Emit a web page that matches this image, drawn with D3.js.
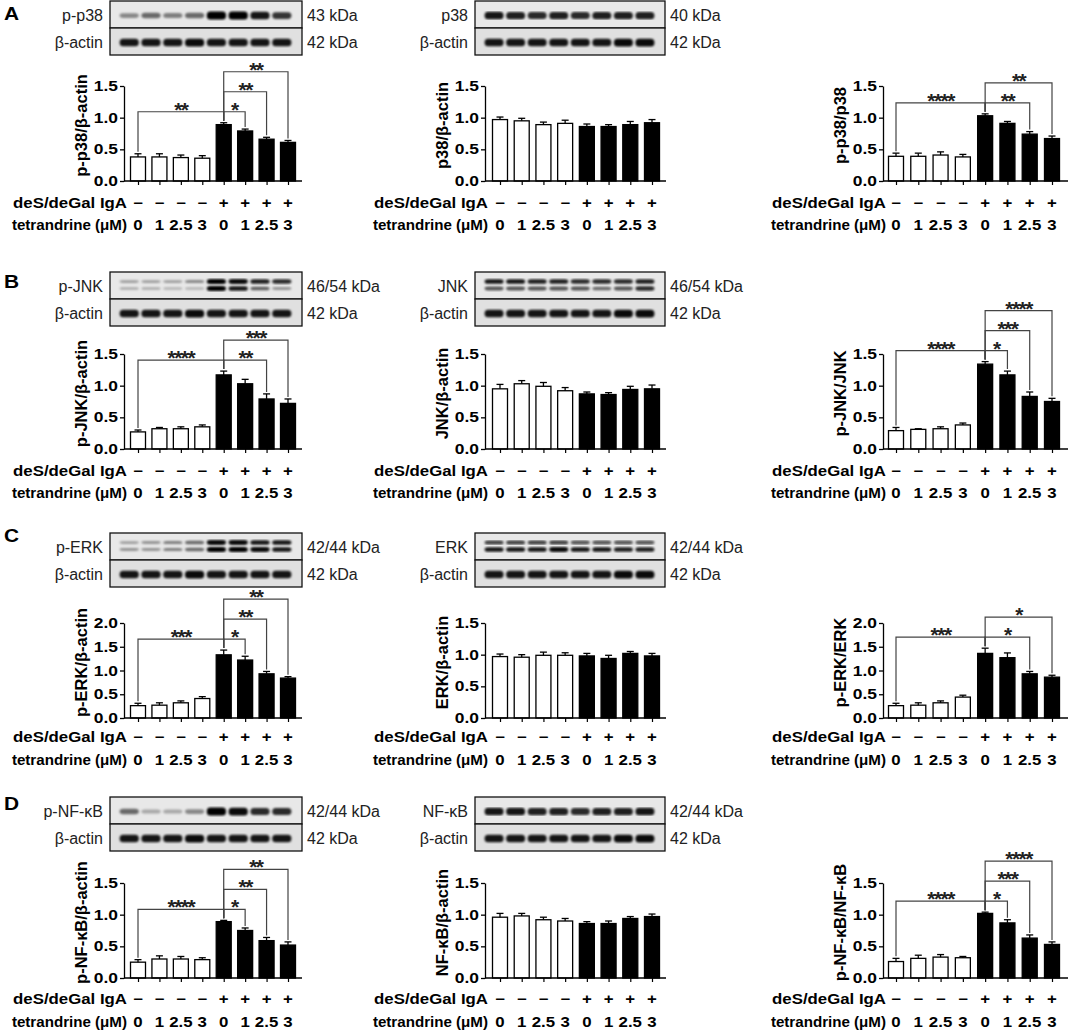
<!DOCTYPE html>
<html>
<head>
<meta charset="utf-8">
<script src="https://cdn.jsdelivr.net/npm/d3@7"></script>
<style>
  body { margin: 0; background: #fff; }
  svg { display: block; }
</style>
</head>
<body>
<div id="fig"></div>
<script>
// ---- x labels ----
const igaMarks = ["−", "−", "−", "−", "+", "+", "+", "+"];
const tetLabels = ["0", "1", "2.5", "3", "0", "1", "2.5", "3"];
const panelLetters = ["A", "B", "C", "D"];

// ---- bar values (mean) and error bars (SEM) ----
const pp38Actin    = [0.38, 0.38, 0.37, 0.36, 0.89, 0.79, 0.66, 0.61];
const pp38ActinErr = [0.05, 0.05, 0.04, 0.04, 0.03, 0.03, 0.03, 0.03];
const p38Actin     = [0.97, 0.95, 0.89, 0.91, 0.86, 0.86, 0.89, 0.92];
const p38ActinErr  = [0.04, 0.04, 0.04, 0.05, 0.04, 0.03, 0.05, 0.05];
const pp38P38      = [0.39, 0.39, 0.41, 0.38, 1.03, 0.91, 0.74, 0.67];
const pp38P38Err   = [0.05, 0.05, 0.05, 0.04, 0.03, 0.03, 0.04, 0.04];

const pJnkActin    = [0.27, 0.32, 0.32, 0.35, 1.17, 1.03, 0.79, 0.72];
const pJnkActinErr = [0.03, 0.02, 0.03, 0.03, 0.06, 0.07, 0.08, 0.07];
const jnkActin     = [0.95, 1.03, 0.99, 0.92, 0.87, 0.86, 0.94, 0.95];
const jnkActinErr  = [0.07, 0.05, 0.06, 0.05, 0.03, 0.03, 0.05, 0.06];
const pJnkJnk      = [0.29, 0.31, 0.32, 0.38, 1.34, 1.17, 0.83, 0.75];
const pJnkJnkErr   = [0.05, 0.01, 0.03, 0.03, 0.04, 0.06, 0.07, 0.05];

const pErkActin    = [0.26, 0.27, 0.32, 0.41, 1.33, 1.22, 0.93, 0.84];
const pErkActinErr = [0.05, 0.05, 0.04, 0.04, 0.10, 0.08, 0.05, 0.03];
const erkActin     = [0.97, 0.96, 0.99, 0.99, 0.98, 0.94, 1.02, 0.98];
const erkActinErr  = [0.04, 0.04, 0.05, 0.04, 0.04, 0.05, 0.03, 0.04];
const pErkErk      = [0.26, 0.27, 0.32, 0.44, 1.36, 1.27, 0.93, 0.86];
const pErkErkErr   = [0.05, 0.05, 0.04, 0.04, 0.11, 0.10, 0.05, 0.04];

const pNfkbActin    = [0.25, 0.30, 0.30, 0.29, 0.89, 0.75, 0.59, 0.52];
const pNfkbActinErr = [0.04, 0.05, 0.04, 0.03, 0.02, 0.04, 0.05, 0.05];
const nfkbActin     = [0.96, 0.98, 0.92, 0.90, 0.86, 0.86, 0.94, 0.97];
const nfkbActinErr  = [0.06, 0.04, 0.04, 0.04, 0.03, 0.04, 0.03, 0.04];
const pNfkbNfkb     = [0.26, 0.31, 0.33, 0.32, 1.02, 0.87, 0.63, 0.53];
const pNfkbNfkbErr  = [0.05, 0.05, 0.04, 0.02, 0.02, 0.05, 0.05, 0.04];

// ---- significance comparisons [from bar, to bar, stars] ----
const pp38ActinSig  = [[0, 4, "**"], [4, 5, "*"], [4, 6, "**"], [4, 7, "**"]];
const pp38P38Sig    = [[0, 4, "****"], [4, 6, "**"], [4, 7, "**"]];
const pJnkActinSig  = [[0, 4, "****"], [4, 6, "**"], [4, 7, "***"]];
const pJnkJnkSig    = [[0, 4, "****"], [4, 5, "*"], [4, 6, "***"], [4, 7, "****"]];
const pErkActinSig  = [[0, 4, "***"], [4, 5, "*"], [4, 6, "**"], [4, 7, "**"]];
const pErkErkSig    = [[0, 4, "***"], [4, 6, "*"], [4, 7, "*"]];
const pNfkbActinSig = [[0, 4, "****"], [4, 5, "*"], [4, 6, "**"], [4, 7, "**"]];
const pNfkbNfkbSig  = [[0, 4, "****"], [4, 5, "*"], [4, 6, "***"], [4, 7, "****"]];

// ---- western blot band intensities (0..1, per lane) ----
const pp38Bands  = [0.35, 0.5, 0.4, 0.5, 1, 1, 0.9, 0.75];
const p38Bands   = [0.9, 0.85, 0.8, 0.85, 0.8, 0.85, 0.85, 0.85];
const pJnkUpper  = [0.25, 0.25, 0.25, 0.35, 1, 0.95, 0.85, 0.8];
const pJnkLower  = [0.2, 0.2, 0.15, 0.15, 1, 0.9, 0.55, 0.3];
const jnkUpper   = [0.9, 0.9, 0.85, 0.85, 0.8, 0.8, 0.8, 0.85];
const jnkLower   = [0.6, 0.6, 0.6, 0.6, 0.6, 0.5, 0.6, 0.8];
const pErkUpper  = [0.25, 0.3, 0.4, 0.5, 0.95, 0.95, 0.9, 0.9];
const pErkLower  = [0.3, 0.3, 0.4, 0.5, 1, 1, 0.95, 0.9];
const erkUpper   = [0.7, 0.7, 0.7, 0.7, 0.6, 0.6, 0.6, 0.6];
const erkLower   = [0.9, 0.9, 0.9, 0.95, 0.9, 0.9, 0.85, 0.85];
const pNfkbBands = [0.5, 0.2, 0.2, 0.35, 1, 0.95, 0.8, 0.8];
const nfkbBands  = [0.9, 0.9, 0.85, 0.85, 0.8, 0.85, 0.85, 0.9];
const actinBands1 = [0.9, 0.9, 0.9, 0.95, 0.9, 0.9, 0.9, 0.9];
const actinBands2 = [0.9, 0.9, 0.9, 0.9, 0.9, 0.9, 0.95, 0.95];

// ---- layout ----
const W = 1072, H = 1033;
const plotH = 95, barW = 15;
const colLayout = [
  { axisX: 124, first: 138, last: 288, end: 302, blotX: 110, blotW: 192 },
  { axisX: 485, first: 500, last: 652, end: 666, blotX: 475, blotW: 190 },
  { axisX: 883, first: 896, last: 1052, end: 1068 }
];
const rowLayout = [
  { y0: 181, blotTop: 1,   igaY: 208,  tetY: 230,  letterY: 20 },
  { y0: 449, blotTop: 272, igaY: 476,  tetY: 498,  letterY: 288 },
  { y0: 718, blotTop: 533, igaY: 742,  tetY: 765,  letterY: 542 },
  { y0: 978, blotTop: 797, igaY: 1004, tetY: 1027, letterY: 810 }
];

const charts = [
  { row: 0, col: 0, title: "p-p38/β-actin", values: pp38Actin, errors: pp38ActinErr, yMax: 1.5, sig: pp38ActinSig },
  { row: 0, col: 1, title: "p38/β-actin", values: p38Actin, errors: p38ActinErr, yMax: 1.5, sig: [] },
  { row: 0, col: 2, title: "p-p38/p38", values: pp38P38, errors: pp38P38Err, yMax: 1.5, sig: pp38P38Sig },
  { row: 1, col: 0, title: "p-JNK/β-actin", values: pJnkActin, errors: pJnkActinErr, yMax: 1.5, sig: pJnkActinSig },
  { row: 1, col: 1, title: "JNK/β-actin", values: jnkActin, errors: jnkActinErr, yMax: 1.5, sig: [] },
  { row: 1, col: 2, title: "p-JNK/JNK", values: pJnkJnk, errors: pJnkJnkErr, yMax: 1.5, sig: pJnkJnkSig },
  { row: 2, col: 0, title: "p-ERK/β-actin", values: pErkActin, errors: pErkActinErr, yMax: 2.0, sig: pErkActinSig },
  { row: 2, col: 1, title: "ERK/β-actin", values: erkActin, errors: erkActinErr, yMax: 1.5, sig: [] },
  { row: 2, col: 2, title: "p-ERK/ERK", values: pErkErk, errors: pErkErkErr, yMax: 2.0, sig: pErkErkSig },
  { row: 3, col: 0, title: "p-NF-κB/β-actin", values: pNfkbActin, errors: pNfkbActinErr, yMax: 1.5, sig: pNfkbActinSig },
  { row: 3, col: 1, title: "NF-κB/β-actin", values: nfkbActin, errors: nfkbActinErr, yMax: 1.5, sig: [] },
  { row: 3, col: 2, title: "p-NF-κB/NF-κB", values: pNfkbNfkb, errors: pNfkbNfkbErr, yMax: 1.5, sig: pNfkbNfkbSig }
];

const blots = [
  { row: 0, col: 0, panels: [{ label: "p-p38", kda: "43 kDa", bands: [pp38Bands] }, { label: "β-actin", kda: "42 kDa", bands: [actinBands1] }] },
  { row: 0, col: 1, panels: [{ label: "p38", kda: "40 kDa", bands: [p38Bands] }, { label: "β-actin", kda: "42 kDa", bands: [actinBands2] }] },
  { row: 1, col: 0, panels: [{ label: "p-JNK", kda: "46/54 kDa", bands: [pJnkUpper, pJnkLower] }, { label: "β-actin", kda: "42 kDa", bands: [actinBands1] }] },
  { row: 1, col: 1, panels: [{ label: "JNK", kda: "46/54 kDa", bands: [jnkUpper, jnkLower] }, { label: "β-actin", kda: "42 kDa", bands: [actinBands2] }] },
  { row: 2, col: 0, panels: [{ label: "p-ERK", kda: "42/44 kDa", bands: [pErkUpper, pErkLower] }, { label: "β-actin", kda: "42 kDa", bands: [actinBands1] }] },
  { row: 2, col: 1, panels: [{ label: "ERK", kda: "42/44 kDa", bands: [erkUpper, erkLower] }, { label: "β-actin", kda: "42 kDa", bands: [actinBands2] }] },
  { row: 3, col: 0, panels: [{ label: "p-NF-κB", kda: "42/44 kDa", bands: [pNfkbBands] }, { label: "β-actin", kda: "42 kDa", bands: [actinBands1] }] },
  { row: 3, col: 1, panels: [{ label: "NF-κB", kda: "42/44 kDa", bands: [nfkbBands] }, { label: "β-actin", kda: "42 kDa", bands: [actinBands2] }] }
];

const FONT = "'Liberation Sans', Arial, sans-serif";
const svg = d3.select("#fig").append("svg")
  .attr("width", W).attr("height", H)
  .style("background", "#fff");

svg.append("defs").append("filter").attr("id", "blur")
  .append("feGaussianBlur").attr("stdDeviation", 0.8);

// widen bold text a little, the source figure is horizontally stretched
function stretch(sel, k) {
  sel.each(function() {
    const w = this.getComputedTextLength();
    d3.select(this).attr("textLength", w * k).attr("lengthAdjust", "spacingAndGlyphs");
  });
}

// ---- panel letters ----
svg.selectAll(".letter")
  .data(panelLetters)
  .enter().append("text")
  .attr("class", "letter")
  .attr("x", 4)
  .attr("y", (d, i) => rowLayout[i].letterY)
  .attr("font-family", FONT).attr("font-weight", "bold").attr("font-size", 19)
  .text(d => d)
  .call(stretch, 1.1);

// ---- western blots ----
const panelH = 27;
blots.forEach(b => {
  const L = colLayout[b.col], R = rowLayout[b.row];
  const g = svg.append("g");
  const lane = d3.scaleBand().domain(d3.range(8))
    .range([L.blotX + 7, L.blotX + L.blotW - 8]).padding(0.12);

  b.panels.forEach((p, pi) => {
    const top = R.blotTop + pi * panelH;
    g.append("rect")
      .attr("x", L.blotX).attr("y", top)
      .attr("width", L.blotW).attr("height", panelH)
      .attr("fill", pi === 0 ? "#e8e8e8" : "#e0e0e0")
      .attr("stroke", "#111").attr("stroke-width", 1.3);

    const nRows = p.bands.length;
    const bh = d => nRows === 2 ? 2 + 3 * d : 3 + 5 * d;
    p.bands.forEach((row, ri) => {
      const cy = top + panelH / 2 + (nRows === 2 ? (ri === 0 ? -4 : 3) : 1);
      g.append("g").attr("filter", "url(#blur)")
        .selectAll("rect")
        .data(row)
        .enter().append("rect")
        .attr("x", (d, i) => lane(i))
        .attr("width", lane.bandwidth())
        .attr("height", d => bh(d))
        .attr("y", d => cy - bh(d) / 2)
        .attr("rx", 3.5)
        .attr("fill", "#050505")
        .attr("opacity", d => 0.1 + 0.9 * d);
    });

    g.append("text")
      .attr("x", L.blotX - 7).attr("y", top + panelH / 2 + 6)
      .attr("text-anchor", "end")
      .attr("font-family", FONT).attr("font-size", 16).attr("fill", "#222")
      .text(p.label);
    g.append("text")
      .attr("x", L.blotX + L.blotW + 5).attr("y", top + panelH / 2 + 6)
      .attr("font-family", FONT).attr("font-size", 16).attr("fill", "#222")
      .text(p.kda);
  });
});

// ---- bar charts ----
charts.forEach(c => {
  const L = colLayout[c.col], R = rowLayout[c.row];
  const g = svg.append("g");
  const x = d3.scalePoint().domain(d3.range(8)).range([L.first, L.last]);
  const y = d3.scaleLinear().domain([0, c.yMax]).range([R.y0, R.y0 - plotH]);

  // bars
  g.selectAll(".bar")
    .data(c.values)
    .enter().append("rect")
    .attr("x", (d, i) => x(i) - barW / 2)
    .attr("y", d => y(d))
    .attr("width", barW)
    .attr("height", d => y(0) - y(d))
    .attr("fill", (d, i) => igaMarks[i] === "+" ? "#000" : "#fff")
    .attr("stroke", "#000").attr("stroke-width", 1.3);

  // error bars
  const eb = g.selectAll(".err")
    .data(c.values)
    .enter().append("g");
  eb.append("line")
    .attr("x1", (d, i) => x(i)).attr("x2", (d, i) => x(i))
    .attr("y1", d => y(d)).attr("y2", (d, i) => y(d + c.errors[i]))
    .attr("stroke", "#000").attr("stroke-width", 1.3);
  eb.append("line")
    .attr("x1", (d, i) => x(i) - 3.5).attr("x2", (d, i) => x(i) + 3.5)
    .attr("y1", (d, i) => y(d + c.errors[i])).attr("y2", (d, i) => y(d + c.errors[i]))
    .attr("stroke", "#000").attr("stroke-width", 1.3);

  // y axis
  const yAxis = g.append("g")
    .attr("transform", `translate(${L.axisX},0)`)
    .call(d3.axisLeft(y)
      .tickValues(d3.range(0, c.yMax + 0.01, 0.5))
      .tickFormat(d3.format(".1f"))
      .tickSize(4).tickSizeOuter(0).tickPadding(2));
  yAxis.select(".domain").attr("stroke-width", 1.3);
  yAxis.selectAll(".tick line").attr("stroke-width", 1.3);
  yAxis.selectAll(".tick text")
    .attr("font-family", FONT).attr("font-weight", "bold").attr("font-size", 14.5)
    .attr("fill", "#000")
    .call(stretch, 1.2);

  // x axis: baseline across the plot, small ticks under each bar
  g.append("line")
    .attr("x1", L.axisX).attr("x2", L.end)
    .attr("y1", R.y0).attr("y2", R.y0)
    .attr("stroke", "#000").attr("stroke-width", 1.3);
  const xAxis = g.append("g")
    .attr("transform", `translate(0,${R.y0})`)
    .call(d3.axisBottom(x).tickSize(4).tickFormat(""));
  xAxis.select(".domain").remove();
  xAxis.selectAll(".tick line").attr("stroke-width", 1.2);

  // y title
  g.append("text")
    .attr("transform", `translate(${L.axisX - 37},${R.y0 - plotH / 2 - 8}) rotate(-90)`)
    .attr("text-anchor", "middle")
    .attr("font-family", FONT).attr("font-weight", "bold").attr("font-size", 16.5)
    .text(c.title);

  // row labels below the axis
  const rows = [
    { name: "deS/deGal IgA", marks: igaMarks, yy: R.igaY, k: 1.2 },
    { name: "tetrandrine (μM)", marks: tetLabels, yy: R.tetY, k: 1.08 }
  ];
  rows.forEach(r => {
    g.append("text")
      .attr("x", L.axisX + 3).attr("y", r.yy)
      .attr("text-anchor", "end")
      .attr("font-family", FONT).attr("font-weight", "bold").attr("font-size", 14)
      .text(r.name)
      .call(stretch, r.k);
    g.selectAll(null)
      .data(r.marks)
      .enter().append("text")
      .attr("x", (d, i) => x(i)).attr("y", r.yy)
      .attr("text-anchor", "middle")
      .attr("font-family", FONT).attr("font-weight", "bold").attr("font-size", 14)
      .text(d => d)
      .call(stretch, 1.2);
  });

  // significance brackets
  const topPx = i => y(c.values[i] + c.errors[i]);
  const base = topPx(4) - 11;
  let rightCount = 0;
  c.sig.forEach(([a, b, stars]) => {
    let lvl = 0;
    if (a === 4) { lvl = rightCount; rightCount++; }
    const ly = base - lvl * 20;
    g.append("path")
      .attr("d", `M${x(a)},${topPx(a) - 2}V${ly}H${x(b)}V${topPx(b) - 2}`)
      .attr("fill", "none")
      .attr("stroke", "#444").attr("stroke-width", 1.2);
    g.append("text")
      .attr("x", (x(a) + x(b)) / 2).attr("y", ly + 5)
      .attr("text-anchor", "middle")
      .attr("font-family", FONT).attr("font-weight", "bold").attr("font-size", 21)
      .attr("letter-spacing", -1.5)
      .attr("fill", "#222")
      .text(stars);
  });
});
</script>
</body>
</html>
